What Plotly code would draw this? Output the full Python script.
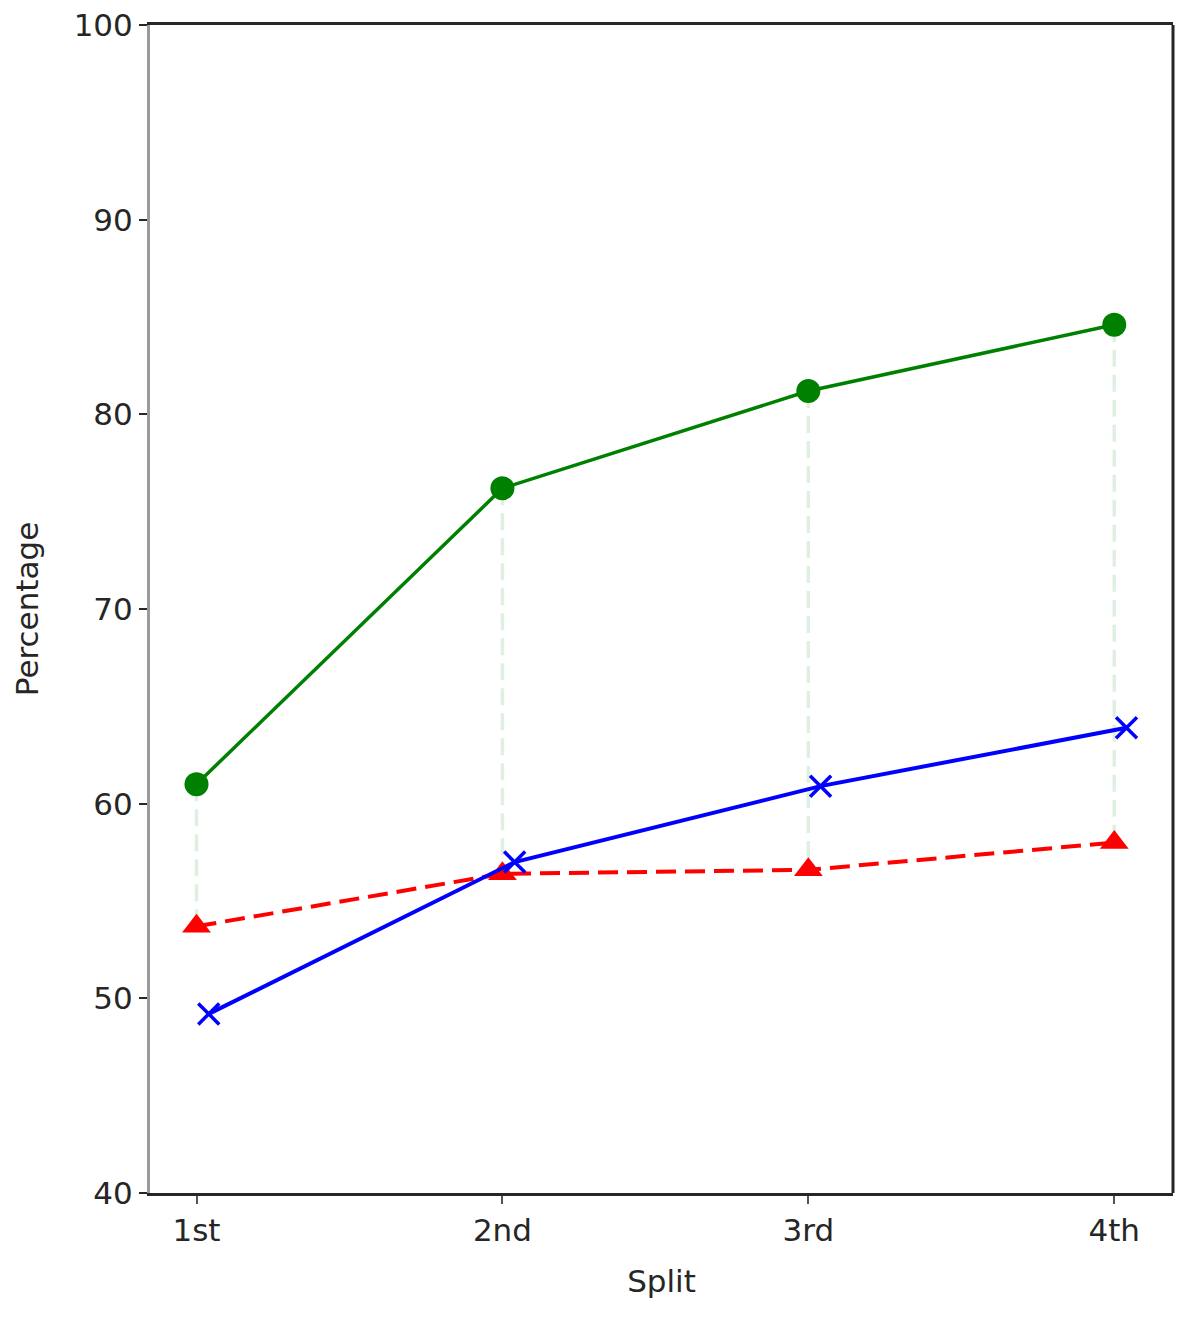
import plotly.graph_objects as go

# ── data ─────────────────────────────────────────────────────────────────
SPLITS = ["1st", "2nd", "3rd", "4th"]
SPLIT_POS = [0, 1, 2, 3]
BLUE_SHIFT = 0.04  # blue series is nudged right a little in the original

GREEN = [61.0, 76.2, 81.2, 84.6]
BLUE = [49.2, 57.0, 60.9, 63.9]
RED = [53.7, 56.4, 56.6, 58.0]

Y_TICKS = [40, 50, 60, 70, 80, 90, 100]

FONT = dict(family="DejaVu Sans", size=31, color="#262626")

fig = go.Figure()

# faint dashed guides from the green point down to the red point
guide_x, guide_y = [], []
for x, top, bottom in zip(SPLIT_POS, GREEN, RED):
    guide_x += [x, x, None]
    guide_y += [top, bottom, None]
fig.add_trace(
    go.Scatter(
        x=guide_x,
        y=guide_y,
        mode="lines",
        line=dict(color="rgba(0,128,0,0.12)", width=3.5, dash="17px,8px"),
        showlegend=False,
        hoverinfo="skip",
    )
)

fig.add_trace(
    go.Scatter(
        x=SPLIT_POS,
        y=RED,
        mode="lines+markers",
        line=dict(color="#ff0000", width=4, dash="20px,9px"),
        marker=dict(symbol="triangle-up", size=25, color="#ff0000"),
        showlegend=False,
    )
)
fig.add_trace(
    go.Scatter(
        x=[p + BLUE_SHIFT for p in SPLIT_POS],
        y=BLUE,
        mode="lines+markers",
        line=dict(color="#0000ff", width=4),
        marker=dict(symbol="x-thin", size=21, line=dict(color="#0000ff", width=3.5)),
        showlegend=False,
    )
)
fig.add_trace(
    go.Scatter(
        x=SPLIT_POS,
        y=GREEN,
        mode="lines+markers",
        line=dict(color="#008000", width=3.5),
        marker=dict(symbol="circle", size=24, color="#008000"),
        showlegend=False,
    )
)

# right spine (plotly's mirror would reuse the grey left colour)
fig.add_shape(
    type="line", xref="paper", yref="paper", x0=1, x1=1, y0=0, y1=1,
    line=dict(color="#262626", width=3),
)

fig.update_layout(
    width=1196,
    height=1334,
    margin=dict(l=142, r=31, t=17, b=149),
    paper_bgcolor="white",
    plot_bgcolor="white",
    font=FONT,
    xaxis=dict(
        range=[-0.152, 3.192],
        tickvals=SPLIT_POS,
        ticktext=SPLITS,
        ticks="outside",
        ticklen=8,
        tickwidth=2,
        tickcolor="#555",
        showgrid=False,
        zeroline=False,
        showline=True,
        linecolor="#262626",
        linewidth=3,
        mirror=True,
        title=dict(text="Split", font=FONT, standoff=24),
        tickfont=FONT,
        automargin=False,
    ),
    yaxis=dict(
        range=[40, 100],
        tickvals=Y_TICKS,
        ticksuffix="\u00a0",
        ticklabeloverflow="allow",
        ticks="outside",
        ticklen=8,
        tickwidth=2,
        tickcolor="#262626",
        showgrid=False,
        zeroline=False,
        showline=True,
        linecolor="#9a9a9a",
        linewidth=3,
        title=dict(text="Percentage", font=FONT, standoff=26),
        tickfont=FONT,
        automargin=False,
    ),
)

fig.write_html("out.html")
